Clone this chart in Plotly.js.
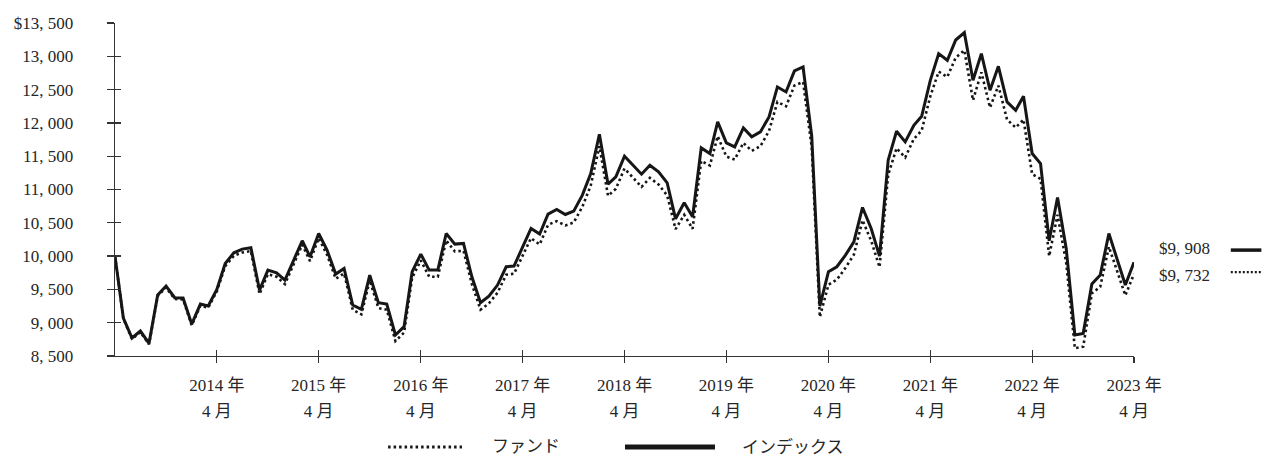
<!DOCTYPE html>
<html>
<head>
<meta charset="utf-8">
<script src="https://cdn.plot.ly/plotly-3.0.1.min.js"></script>
<style>
  html, body { margin: 0; padding: 0; background: #ffffff; }
  #chart { width: 1265px; height: 459px; }
</style>
</head>
<body>
<div id="chart"></div>
<script>
// ---- data (monthly, Apr 2013 – Apr 2023) ----
const startMonth = '2013-04';
const indexValues = [
  10000, 9070, 8770, 8875, 8690, 9415, 9550, 9375, 9370, 8980, 9280, 9250,
  9500, 9890, 10050, 10105, 10125, 9490, 9790, 9750, 9640, 9940, 10230, 9990,
  10340, 10090, 9730, 9815, 9265, 9200, 9715, 9300, 9280, 8815, 8940, 9765,
  10030, 9790, 9790, 10340, 10180, 10190, 9690, 9300, 9400, 9565, 9840, 9850,
  10140, 10415, 10330, 10630, 10700, 10625, 10675, 10915, 11240, 11830, 11080, 11190,
  11500, 11365, 11230, 11365, 11265, 11100, 10560, 10800, 10590, 11625, 11540, 12015,
  11700, 11640, 11925, 11790, 11865, 12090, 12540, 12465, 12780, 12840, 11800, 9250,
  9765, 9840, 10015, 10215, 10730, 10415, 10000, 11440, 11875, 11715, 11965, 12100,
  12640, 13040, 12940, 13245, 13355, 12640, 13040, 12490, 12850, 12315, 12190, 12400,
  11540, 11390, 10230, 10880, 10115, 8815, 8840, 9580, 9715, 10340, 9940, 9565,
  9908
];
const fundValues = [
  10000, 9060, 8755, 8860, 8675, 9400, 9530, 9355, 9350, 8960, 9255, 9225,
  9470, 9850, 10005, 10055, 10075, 9430, 9730, 9690, 9580, 9880, 10170, 9925,
  10270, 10020, 9660, 9740, 9195, 9125, 9635, 9220, 9195, 8725, 8850, 9675,
  9935, 9690, 9690, 10235, 10070, 10080, 9580, 9195, 9290, 9450, 9720, 9735,
  10010, 10270, 10175, 10470, 10525, 10460, 10505, 10740, 11060, 11650, 10905, 11010,
  11315, 11180, 11040, 11175, 11075, 10910, 10405, 10620, 10410, 11430, 11360, 11800,
  11495, 11450, 11700, 11580, 11650, 11880, 12315, 12250, 12560, 12615, 11630, 9085,
  9570, 9645, 9825, 10020, 10540, 10230, 9835, 11220, 11620, 11480, 11760, 11885,
  12400, 12770, 12690, 12980, 13090, 12340, 12760, 12230, 12560, 12050, 11930, 12050,
  11230, 11160, 10000, 10620, 9900, 8615, 8640, 9440, 9540, 10140, 9750, 9410,
  9732
];
const seriesNames = ['ファンド', 'インデックス'];
const endLabels = ['$9, 908', '$9, 732'];
const yTickVals = [8500, 9000, 9500, 10000, 10500, 11000, 11500, 12000, 12500, 13000, 13500];
const yTickText = ['8, 500', '9, 000', '9, 500', '10, 000', '10, 500', '11, 000', '11, 500', '12, 000', '12, 500', '13, 000', '$13, 500'];
const xTickVals = ['2014-04-01', '2015-04-01', '2016-04-01', '2017-04-01', '2018-04-01', '2019-04-01', '2020-04-01', '2021-04-01', '2022-04-01', '2023-04-01'];
const xTickYear = ['2014 年', '2015 年', '2016 年', '2017 年', '2018 年', '2019 年', '2020 年', '2021 年', '2022 年', '2023 年'];
const xTickMonth = ['4 月', '4 月', '4 月', '4 月', '4 月', '4 月', '4 月', '4 月', '4 月', '4 月'];

// month dates for each point
const months = [];
{
  let y = parseInt(startMonth.slice(0, 4), 10), m = parseInt(startMonth.slice(5), 10);
  for (let i = 0; i < indexValues.length; i++) {
    months.push(y + '-' + String(m).padStart(2, '0') + '-01');
    m++; if (m > 12) { m = 1; y++; }
  }
}

const FONT = "'Liberation Serif', 'Noto Sans CJK JP', serif";
const TXT = '#262626';
const LINE = '#161616';
const FUND_DASH = '2.5px,3px';

const traces = [
  {
    x: months, y: fundValues, name: seriesNames[0], type: 'scatter', mode: 'lines',
    line: { color: LINE, width: 2.6, dash: FUND_DASH }, hoverinfo: 'skip', showlegend: false
  },
  {
    x: months, y: indexValues, name: seriesNames[1], type: 'scatter', mode: 'lines',
    line: { color: LINE, width: 3 }, hoverinfo: 'skip', showlegend: false
  }
];

const xr = [months[0], months[months.length - 1]];
const layout = {
  width: 1265, height: 459,
  margin: { l: 115, r: 131, t: 23, b: 103, autoexpand: false },
  paper_bgcolor: '#ffffff', plot_bgcolor: '#ffffff',
  font: { family: FONT, size: 17, color: TXT },
  showlegend: false,
  xaxis: {
    type: 'date', range: xr, showgrid: false, zeroline: false, automargin: false,
    showline: true, linecolor: '#333', linewidth: 1.3,
    ticks: 'outside', ticklen: 6, tickwidth: 1.3, tickcolor: '#333',
    tickmode: 'array', tickvals: xTickVals, ticktext: xTickYear,
    ticklabelstandoff: 7, fixedrange: true
  },
  xaxis2: {
    type: 'date', range: xr, overlaying: 'x', side: 'bottom', anchor: 'y', automargin: false,
    showgrid: false, zeroline: false, showline: false,
    ticks: 'inside', ticklen: 6, tickwidth: 1.3, tickcolor: '#333',
    tickmode: 'array', tickvals: xTickVals, ticktext: xTickMonth,
    ticklabelstandoff: 43, fixedrange: true
  },
  yaxis: {
    range: [8500, 13500], showgrid: false, zeroline: false, automargin: false,
    showline: true, linecolor: '#333', linewidth: 1.3,
    ticks: 'outside', ticklen: 7, tickwidth: 1.3, tickcolor: '#333',
    tickmode: 'array', tickvals: yTickVals, ticktext: yTickText,
    ticklabelstandoff: 30, fixedrange: true
  },
  yaxis2: {
    range: [8500, 13500], overlaying: 'y', side: 'left', anchor: 'x', automargin: false,
    showgrid: false, zeroline: false, showline: false,
    ticks: 'inside', ticklen: 6, tickwidth: 1.3, tickcolor: '#333',
    tickmode: 'array', tickvals: yTickVals, showticklabels: false, fixedrange: true
  },
  annotations: [
    { xref: 'paper', yref: 'paper', x: 1.0226, y: 0.324, xanchor: 'left', yanchor: 'middle',
      text: endLabels[0], showarrow: false, font: { family: FONT, size: 17, color: TXT } },
    { xref: 'paper', yref: 'paper', x: 1.0226, y: 0.243, xanchor: 'left', yanchor: 'middle',
      text: endLabels[1], showarrow: false, font: { family: FONT, size: 17, color: TXT } },
    // legend labels
    { xref: 'paper', yref: 'paper', x: 0.368, y: -0.273, xanchor: 'left', yanchor: 'middle',
      text: seriesNames[0], showarrow: false, font: { family: FONT, size: 17, color: TXT } },
    { xref: 'paper', yref: 'paper', x: 0.6133, y: -0.273, xanchor: 'left', yanchor: 'middle',
      text: seriesNames[1], showarrow: false, font: { family: FONT, size: 17, color: TXT } }
  ],
  shapes: [
    // end-value keys
    { type: 'line', xref: 'paper', yref: 'paper', x0: 1.095, x1: 1.125, y0: 0.318, y1: 0.318,
      line: { color: LINE, width: 3.5 } },
    { type: 'line', xref: 'paper', yref: 'paper', x0: 1.095, x1: 1.125, y0: 0.252, y1: 0.252,
      line: { color: LINE, width: 2.2, dash: '2px,2px' } },
    // legend keys
    { type: 'line', xref: 'paper', yref: 'paper', x0: 0.268, x1: 0.3405, y0: -0.273, y1: -0.273,
      line: { color: LINE, width: 3, dash: FUND_DASH } },
    { type: 'line', xref: 'paper', yref: 'paper', x0: 0.5005, x1: 0.5888, y0: -0.273, y1: -0.273,
      line: { color: LINE, width: 5 } }
  ]
};

// invisible trace to activate overlay axes
traces.push({ x: [xr[0]], y: [10000], xaxis: 'x2', yaxis: 'y2', mode: 'markers',
  marker: { opacity: 0 }, showlegend: false, hoverinfo: 'skip' });

Plotly.newPlot('chart', traces, layout, { displayModeBar: false, staticPlot: true });
</script>
</body>
</html>
